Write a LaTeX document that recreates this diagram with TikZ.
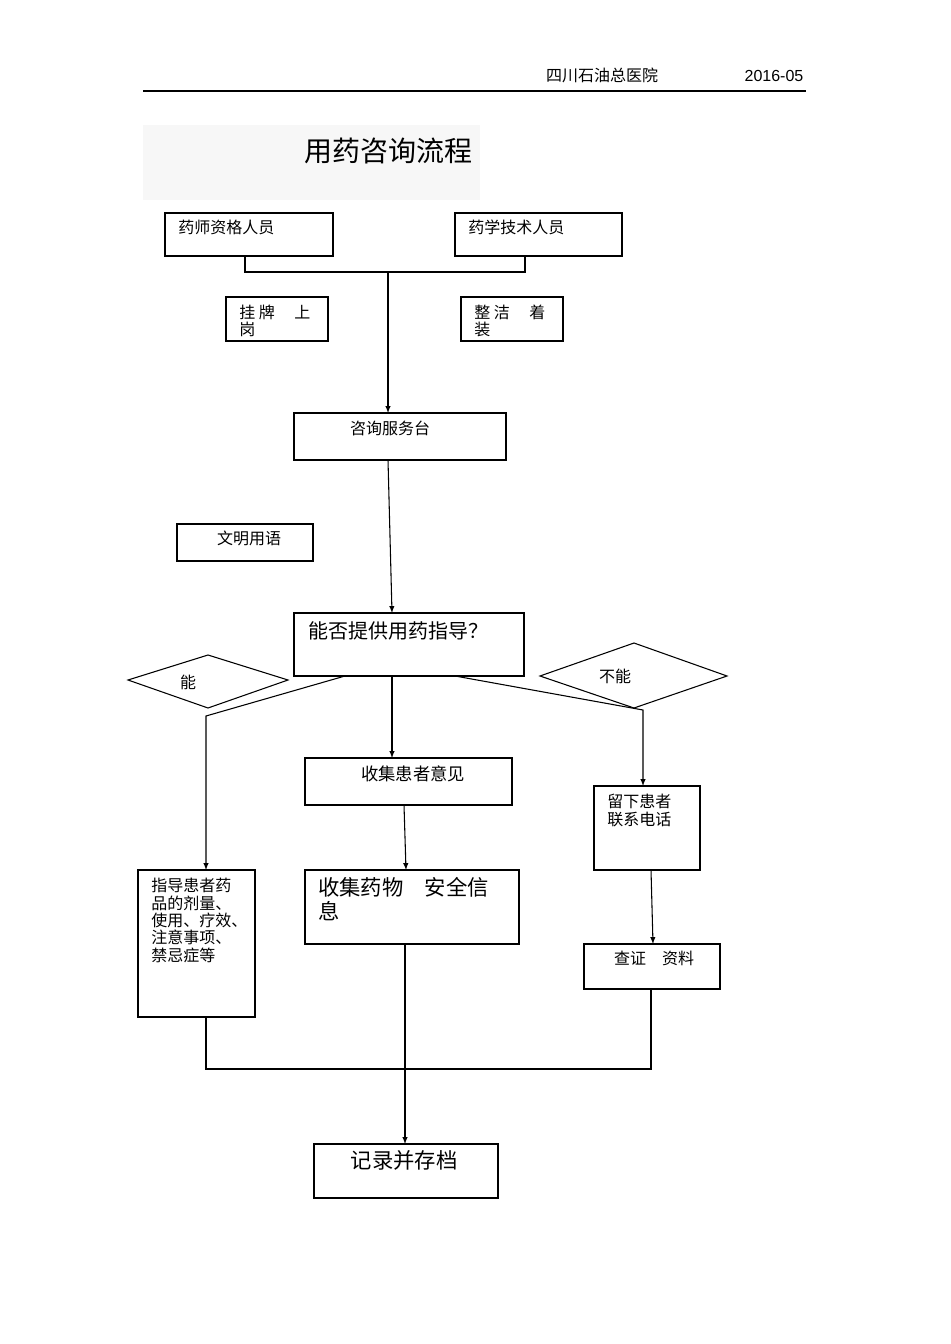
\documentclass[tikz,border=0pt]{standalone}
\usepackage{fontspec}
\setmainfont{Liberation Sans}
\newfontfamily\cjk{Noto Sans CJK SC}
\begin{document}
\begin{tikzpicture}[x=0.75pt,y=-0.75pt,
  bx/.style={draw,line width=0.8pt},
  ln/.style={line width=0.8pt},
  ar/.style={line width=0.8pt,-latex},
  tx/.style={font=\cjk\fontsize{12}{13}\selectfont,inner sep=0pt,anchor=north west,align=left},
  big/.style={font=\cjk\fontsize{15}{16}\selectfont,inner sep=0pt,anchor=north west,align=left}]
\useasboundingbox[fill=white] (0,0) rectangle (950,1344);
\node[font=\cjk\fontsize{12}{13}\selectfont,anchor=base] (h1) at (602,82) {四川石油总医院};
\node[font=\fontsize{12}{13}\selectfont,anchor=base] (h2) at (774,82) {2016-05};
\draw[ln] (143,91) coordinate (hl) -- (806,91) coordinate (hr);
\fill[black!3] (143,125) rectangle (480,200);
\node[font=\cjk\fontsize{21}{22}\selectfont] (title) at (388,151) {用药咨询流程};
% top boxes
\draw[bx] (165,213) rectangle (333,256); \node[tx] (a) at (178,220) {药师资格人员};
\draw[bx] (455,213) rectangle (622,256); \node[tx] (b) at (468,220) {药学技术人员};
\coordinate (j1) at (245,256); \coordinate (j2) at (525,256);
\draw[ln] (j1) -- (245,272) -- (525,272) -- (j2);
\draw[ar] (388,272) coordinate (j3) -- (388,413);
\draw[bx] (226,297) rectangle (328,341); \node[tx,font=\cjk\fontsize{12}{12.5}\selectfont] (c) at (239,305) {挂 牌 \quad 上\\岗};
\draw[bx] (461,297) rectangle (563,341); \node[tx,font=\cjk\fontsize{12}{12.5}\selectfont] (d) at (474,305) {整 洁 \quad 着\\装};
\draw[bx] (294,413) rectangle (506,460); \node[tx,anchor=north] (e) at (390,421) {咨询服务台};
\draw[ar] (388,460) -- (392,613);
\draw[bx] (177,524) rectangle (313,561); \node[tx,anchor=north] (f) at (249,531) {文明用语};
\draw[bx] (294,613) rectangle (524,676); \node[big] (g) at (308,621) {能否提供用药指导？};
\draw[ln] (128,680) -- (208,655) -- (288,680) -- (208,708) -- cycle; \node[tx,anchor=center] (n1) at (188,682) {能};
\draw[ln] (540,676) -- (634,643) -- (727,676) -- (634,708) -- cycle; \node[tx,anchor=center] (n2) at (615,676) {不能};
\draw[ar] (345,676) -- (206,716) -- (206,870);
\draw[ar] (392,676) -- (392,758);
\draw[ar] (455,676) -- (643,710) -- (643,786);
\draw[bx] (305,758) rectangle (512,805); \node[tx,anchor=north,font=\cjk\fontsize{13}{14}\selectfont] (h) at (413,766) {收集患者意见};
\draw[bx] (594,786) rectangle (700,870); \node[tx] (i) at (607,794) {留下患者\\联系电话};
\draw[ar] (404,805) -- (406,870);
\draw[bx] (138,870) rectangle (255,1017); \node[tx,font=\cjk\fontsize{12}{13}\selectfont] (k) at (151,878) {指导患者药\\品的剂量、\\使用、疗效、\\注意事项、\\禁忌症等};
\draw[bx] (305,870) rectangle (519,944); \node[big,font=\cjk\fontsize{16}{18}\selectfont] (l) at (318,877) {收集药物\quad 安全信\\息};
\draw[ar] (651,870) -- (653,944);
\draw[bx] (584,944) rectangle (720,989); \node[tx,anchor=north] (m) at (654,951) {查证\quad 资料};
\draw[ln] (206,1017) -- (206,1069) -- (651,1069) -- (651,989);
\draw[ar] (405,944) -- (405,1144);
\draw[bx] (314,1144) rectangle (498,1198); \node[big,anchor=north,font=\cjk\fontsize{16}{18}\selectfont] (o) at (404,1150) {记录并存档};
\end{tikzpicture}
\end{document}
